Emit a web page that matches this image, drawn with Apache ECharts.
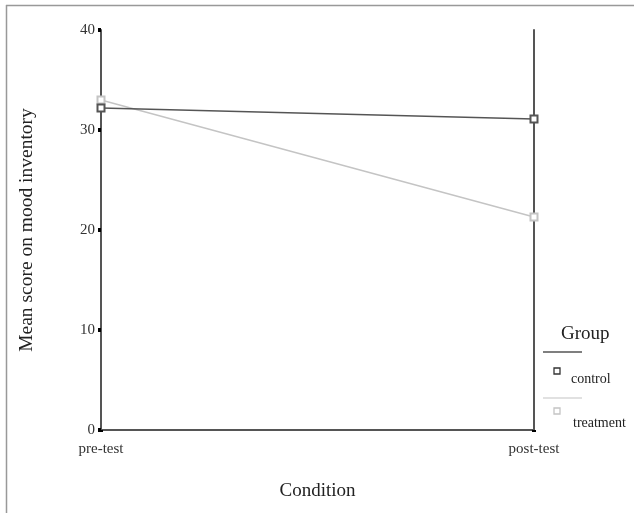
<!DOCTYPE html>
<html><head><meta charset="utf-8">
<script src="https://cdn.jsdelivr.net/npm/echarts@6/dist/echarts.min.js"></script>
<style>html,body{margin:0;padding:0;background:#fff}#c{width:634px;height:513px}</style>
</head><body><div id="c"></div>
<script>
const conditions = ['pre-test', 'post-test'];
const groups = ['control', 'treatment'];
const controlValues = [32.2, 31.1];
const treatmentValues = [33.0, 21.3];
const yTicks = [0, 10, 20, 30, 40];

const FONT = '"Liberation Serif", "DejaVu Serif", serif';
const colors = ['#555555', '#c4c4c4'];
const chart = echarts.init(document.getElementById('c'));
chart.setOption({
  animation: false,
  backgroundColor: '#ffffff',
  grid: {left: 101, right: 100, top: 30, bottom: 83},
  xAxis: {
    type: 'category', data: conditions, boundaryGap: false,
    name: 'Condition', nameLocation: 'middle', nameGap: 52,
    nameTextStyle: {fontFamily: FONT, fontSize: 19, color: '#222'},
    axisLine: {lineStyle: {color: '#555', width: 2}},
    axisTick: {show: true, length: 2, lineStyle: {color: '#000', width: 4}},
    axisLabel: {fontFamily: FONT, fontSize: 15, color: '#333', margin: 12},
    splitLine: {show: false}
  },
  yAxis: [{
    type: 'value', min: 0, max: 40, interval: 10,
    name: 'Mean score on mood inventory', nameLocation: 'middle', nameGap: 64,
    nameTextStyle: {fontFamily: FONT, fontSize: 19.5, color: '#222'},
    axisLine: {show: true, lineStyle: {color: '#555', width: 2}},
    axisTick: {show: true, length: 3, inside: false, lineStyle: {color: '#000', width: 4}},
    axisLabel: {fontFamily: FONT, fontSize: 15, color: '#333', margin: 6,
      formatter: v => yTicks.includes(v) ? String(v) : ''},
    splitLine: {show: false}
  }, {
    type: 'value', min: 0, max: 40, interval: 10, position: 'right',
    axisLine: {show: true, lineStyle: {color: '#555', width: 2}},
    axisTick: {show: false}, axisLabel: {show: false}, splitLine: {show: false}
  }],
  series: [
    {name: groups[0], type: 'line', data: controlValues, symbol: 'emptyRect', symbolSize: 7,
     lineStyle: {color: colors[0], width: 1.5}, itemStyle: {color: colors[0], borderWidth: 1.3}, z: 3},
    {name: groups[1], type: 'line', data: treatmentValues, symbol: 'emptyRect', symbolSize: 7,
     lineStyle: {color: colors[1], width: 1.5}, itemStyle: {color: colors[1], borderWidth: 1.3}, z: 2}
  ],
  graphic: [
    {type: 'line', shape: {x1: 6, y1: 5.5, x2: 634, y2: 5.5}, style: {stroke: '#999', lineWidth: 1.5}, silent: true},
    {type: 'line', shape: {x1: 6.5, y1: 5, x2: 6.5, y2: 513}, style: {stroke: '#999', lineWidth: 1.5}, silent: true},
    {type: 'text', left: 561, top: 325, style: {text: 'Group', font: '19px ' + FONT, fill: '#222'}},
    {type: 'line', shape: {x1: 543, y1: 352, x2: 582, y2: 352}, style: {stroke: colors[0], lineWidth: 1.5}},
    {type: 'rect', shape: {x: 554, y: 368, width: 6, height: 6}, style: {stroke: '#333', fill: '#fff', lineWidth: 1.3}},
    {type: 'text', left: 571, top: 372, style: {text: groups[0], font: '14px ' + FONT, fill: '#222'}},
    {type: 'line', shape: {x1: 543, y1: 398, x2: 582, y2: 398}, style: {stroke: colors[1], lineWidth: 1.2}},
    {type: 'rect', shape: {x: 554, y: 408, width: 6, height: 6}, style: {stroke: colors[1], fill: '#fff', lineWidth: 1.3}},
    {type: 'text', left: 573, top: 416, style: {text: groups[1], font: '14px ' + FONT, fill: '#222'}}
  ]
});
</script></body></html>
